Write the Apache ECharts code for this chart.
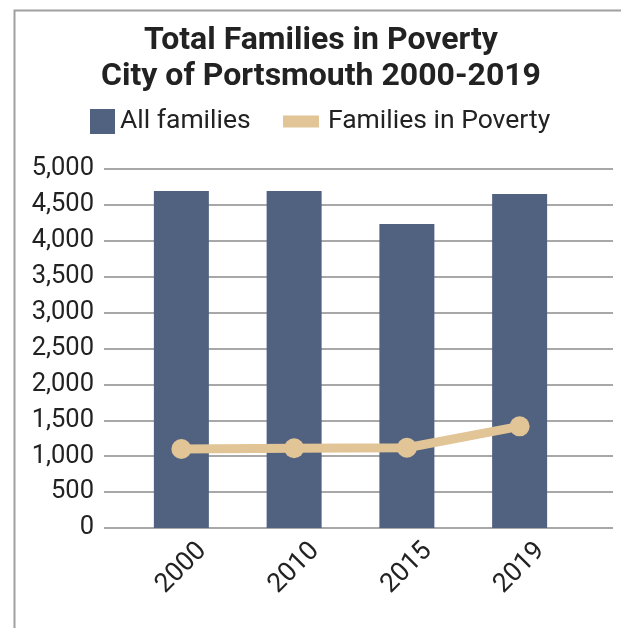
<!DOCTYPE html>
<html><head><meta charset="utf-8">
<script src="https://cdn.jsdelivr.net/npm/echarts@6/dist/echarts.min.js"></script>
<style>html,body{margin:0;padding:0;background:#fff}#c{width:621px;height:628px}</style>
</head><body><div id="c"></div>
<script>
const categories = ['2000', '2010', '2015', '2019'];
const allFamilies = [4694, 4694, 4234, 4652];
const familiesInPoverty = [1100, 1110, 1118, 1416];
const yTicks = { min: 0, max: 5000, interval: 500 };

const chart = echarts.init(document.getElementById('c'), null, { renderer: 'canvas' });
const FONT = 'Roboto';
chart.setOption({
  animation: false,
  backgroundColor: '#fff',
  graphic: [{
    type: 'rect', left: 12, top: 8, shape: { width: 700, height: 700 },
    style: { fill: 'none', stroke: '#a0a0a0', lineWidth: 2 }, z: -1
  }],
  title: {
    text: 'Total Families in Poverty\nCity of Portsmouth 2000-2019',
    left: 316, top: 18, textAlign: 'center',
    textStyle: { fontFamily: FONT, fontWeight: 'bold', fontSize: 32, lineHeight: 36, color: '#222' }
  },
  legend: [{
    data: [{ name: 'All families', icon: 'rect' }],
    left: 90, top: 108, padding: 0, itemWidth: 25, itemHeight: 25, itemGap: 6,
    textStyle: { fontFamily: FONT, fontSize: 26.5, color: '#222' }
  }, {
    data: [{ name: 'Families in Poverty', icon: 'rect' }],
    left: 283, top: 108, padding: 0, itemWidth: 36, itemHeight: 12,
    textStyle: { fontFamily: FONT, fontSize: 26.5, color: '#222', padding: [0, 0, 0, 4] }
  }],
  grid: [
    { left: 104, right: 8, top: 169, bottom: 100 },
    { left: 125, right: 45, top: 169, bottom: 100 }
  ],
  xAxis: [
    { gridIndex: 0, type: 'category', data: categories, show: false },
    {
      gridIndex: 1, type: 'category', data: categories,
      axisLine: { show: false }, axisTick: { show: false },
      axisLabel: { rotate: 45, align: 'center', verticalAlign: 'middle', margin: 40,
        fontFamily: FONT, fontSize: 26.5, color: '#222' }
    }
  ],
  yAxis: [
    {
      gridIndex: 0, type: 'value', min: yTicks.min, max: yTicks.max, interval: yTicks.interval,
      axisLine: { show: false }, axisTick: { show: false },
      axisLabel: { margin: 10, fontFamily: FONT, fontSize: 25.5, color: '#222',
        formatter: v => v.toLocaleString('en-US') },
      splitLine: { lineStyle: { color: '#a8a8a8', width: 2 } }
    },
    {
      gridIndex: 1, type: 'value', min: yTicks.min, max: yTicks.max, interval: yTicks.interval,
      show: false, splitLine: { show: false }
    }
  ],
  series: [
    {
      name: 'All families', type: 'bar', xAxisIndex: 1, yAxisIndex: 1,
      data: allFamilies, barWidth: 55, itemStyle: { color: '#516280' }
    },
    {
      name: 'Families in Poverty', type: 'line', xAxisIndex: 1, yAxisIndex: 1,
      data: familiesInPoverty, symbol: 'circle', symbolSize: 20,
      lineStyle: { color: '#e2c596', width: 9 }, itemStyle: { color: '#e2c596' }
    }
  ]
});
</script></body></html>
